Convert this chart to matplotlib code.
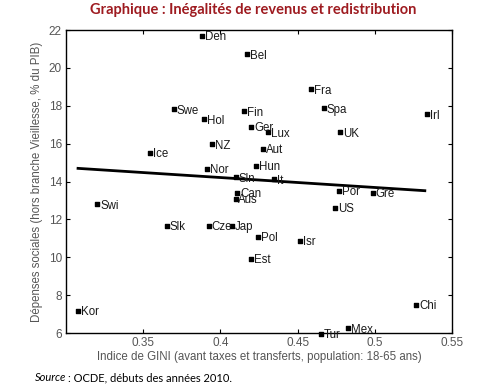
import numpy as np
import matplotlib.pyplot as plt

# country codes, GINI (before taxes & transfers) and social spending (% GDP)
countries = ["Den", "Bel", "Swe", "Hol", "Fin", "Ger", "NZ", "Ice", "Nor", "Fra",
             "Spa", "Irl", "Lux", "UK", "Aut", "Hun", "It", "Sln", "Can", "Aus",
             "Swi", "Slk", "Cze", "Jap", "Est", "Kor", "Por", "Gre", "US", "Pol",
             "Isr", "Chi", "Mex", "Tur"]
gini = [0.388, 0.4175, 0.370, 0.3896, 0.4155, 0.420, 0.3948, 0.3547, 0.3913, 0.4588,
        0.4668, 0.5337, 0.4311, 0.4775, 0.4279, 0.4229, 0.435, 0.4099, 0.411, 0.4099,
        0.3203, 0.3654, 0.3926, 0.4073, 0.420, 0.3078, 0.477, 0.4986, 0.4744, 0.4246,
        0.4517, 0.527, 0.4825, 0.4654]
spending = [21.70, 20.72, 17.81, 17.30, 17.72, 16.88, 15.98, 15.51, 14.68, 18.87,
            17.87, 17.56, 16.61, 16.61, 15.72, 14.82, 14.12, 14.22, 13.41, 13.08,
            12.80, 11.67, 11.67, 11.67, 9.91, 7.18, 13.50, 13.41, 12.62, 11.09,
            10.88, 7.48, 6.25, 5.95]

# trend line end points
trend_x = [0.3078, 0.5324]
trend_y = [14.70, 13.52]

plt.rcParams['font.family'] = ['Liberation Sans', 'DejaVu Sans']

fig = plt.figure(figsize=(5, 3.86), dpi=100)
ax = fig.add_axes([0.132, 0.137, 0.772, 0.785])

ax.plot(trend_x, trend_y, color='black', lw=2)
ax.scatter(gini, spending, s=5, marker='s', color='black', zorder=3, clip_on=False)
for name, x, y in zip(countries, gini, spending):
    ax.annotate(name, (x, y), xytext=(2, -1), textcoords='offset points',
                va='center', ha='left', fontsize=8.3, color='#1a1a1a',
                annotation_clip=False)

ax.set_xlim(0.30, 0.55)
ax.set_ylim(6, 22)
ax.set_xticks([0.35, 0.4, 0.45, 0.5, 0.55])
ax.set_xticklabels(['0.35', '0.4', '0.45', '0.5', '0.55'])
ax.set_yticks(range(6, 23, 2))
ax.tick_params(direction='in', length=3, top=True, right=True,
               labelsize=8.5, labelcolor='#555555', pad=3)
for s in ax.spines.values():
    s.set_linewidth(1)

ax.set_xlabel('Indice de GINI (avant taxes et transferts, population: 18-65 ans)',
              fontsize=8.3, color='#555555', labelpad=1)
ax.set_ylabel('Dépenses sociales (hors branche Vieillesse, % du PIB)',
              fontsize=8.3, color='#555555', labelpad=4)

fig.text(0.506, 0.975, 'Graphique : Inégalités de revenus et redistribution',
         ha='center', va='center', fontsize=10.5, fontweight='bold',
         color='#9e1b20', family=['Lato', 'DejaVu Sans'])
fig.text(0.07, 0.022, 'Source', ha='left', va='center', fontsize=8,
         style='italic', family=['Lato', 'DejaVu Sans'])
fig.text(0.135, 0.022, ': OCDE, débuts des années 2010.', ha='left', va='center',
         fontsize=8, family=['Lato', 'DejaVu Sans'])

fig.savefig('out.png', dpi=100)
